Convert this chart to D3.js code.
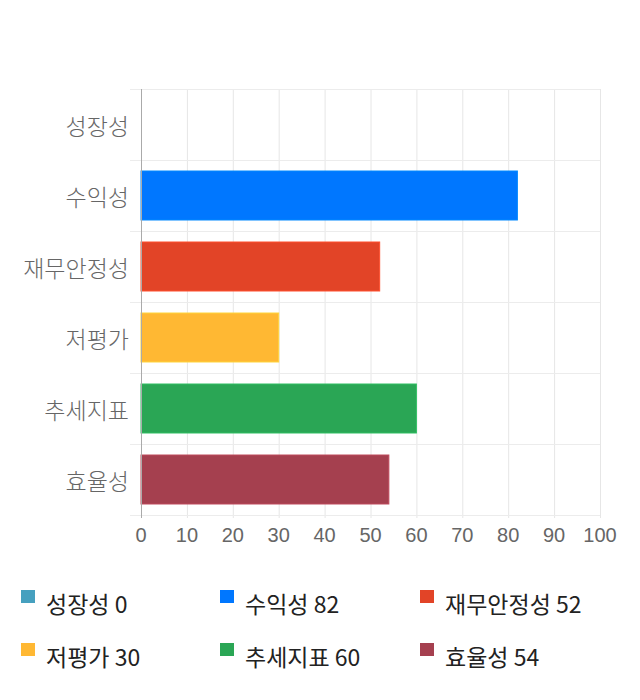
<!DOCTYPE html>
<html><head><meta charset="utf-8">
<script src="https://cdn.jsdelivr.net/npm/d3@7"></script>
<style>body{margin:0;background:#fff;} svg{display:block;}</style>
</head><body>
<svg id="c" width="640" height="700"></svg>
<script>
const categories = ["성장성","수익성","재무안정성","저평가","추세지표","효율성"];
const values = [0,82,52,30,60,54];
const colors = ["#46a0bf","#0077ff","#e24427","#ffb833","#2aa655","#a5404f"];
const xTicks = [0,10,20,30,40,50,60,70,80,90,100];

const svg = d3.select("#c");
const m = {left:141, right:600, top:89, bottom:515};
const x = d3.scaleLinear().domain([0,100]).range([m.left,m.right]);
const y = d3.scaleBand().domain(categories).range([m.top,m.bottom]).paddingInner(0.31).paddingOuter(0.155);
const band = d3.scaleBand().domain(categories).range([m.top,m.bottom]);

const font = "'Noto Sans CJK KR','Noto Sans',sans-serif";

// vertical grid
svg.append("g").selectAll("line").data(xTicks.slice(1)).join("line")
  .attr("x1",d=>x(d)+0.5).attr("x2",d=>x(d)+0.5)
  .attr("y1",m.top).attr("y2",m.bottom+3)
  .attr("stroke","#e6e6e6").attr("stroke-width",1);

// horizontal grid (band boundaries)
const bounds = categories.map(c=>band(c)).concat([m.bottom]);
svg.append("g").selectAll("line").data(bounds).join("line")
  .attr("x1",130).attr("x2",m.right)
  .attr("y1",d=>Math.round(d)+0.5).attr("y2",d=>Math.round(d)+0.5)
  .attr("stroke","#ececec").attr("stroke-width",1);

// bars
svg.append("g").selectAll("rect").data(categories).join("rect")
  .attr("x",x(0)).attr("y",(d)=>y(d))
  .attr("width",(d,i)=>x(values[i])-x(0))
  .attr("height",y.bandwidth())
  .attr("fill",(d,i)=>colors[i])
  .attr("stroke",(d,i)=>d3.color(colors[i]).brighter(0.4))
  .attr("stroke-width",1)
  .attr("display",(d,i)=>values[i]>0?null:"none");

// axis line
svg.append("line").attr("x1",m.left+0.5).attr("x2",m.left+0.5)
  .attr("y1",m.top).attr("y2",m.bottom+3).attr("stroke","#aaa");

// y labels
svg.append("g").selectAll("text").data(categories).join("text")
  .attr("x",129).attr("y",d=>band(d)+band.bandwidth()/2)
  .attr("text-anchor","end").attr("dominant-baseline","central")
  .attr("font-family",font).attr("font-size",23).attr("font-weight",300).attr("fill","#666")
  .text(d=>d);

// x tick labels
svg.append("g").selectAll("text").data(xTicks).join("text")
  .attr("x",d=>x(d)).attr("y",535)
  .attr("text-anchor","middle").attr("dominant-baseline","central")
  .attr("font-family","'Liberation Sans',Arial,sans-serif").attr("font-size",20).attr("fill","#666")
  .text(d=>d);

// legend
const lg = svg.append("g");
const colX = [21,220,420], rowY = [603,656];
categories.forEach((c,i)=>{
  const cx = colX[i%3], cy = rowY[Math.floor(i/3)];
  lg.append("rect").attr("x",cx).attr("y",cy-13).attr("width",14).attr("height",13).attr("fill",colors[i]);
  lg.append("text").attr("x",cx+25).attr("y",cy).attr("dominant-baseline","central")
    .attr("font-family",font).attr("font-size",23).attr("fill","#222")
    .text(c+" "+values[i]);
});
</script>
</body></html>
